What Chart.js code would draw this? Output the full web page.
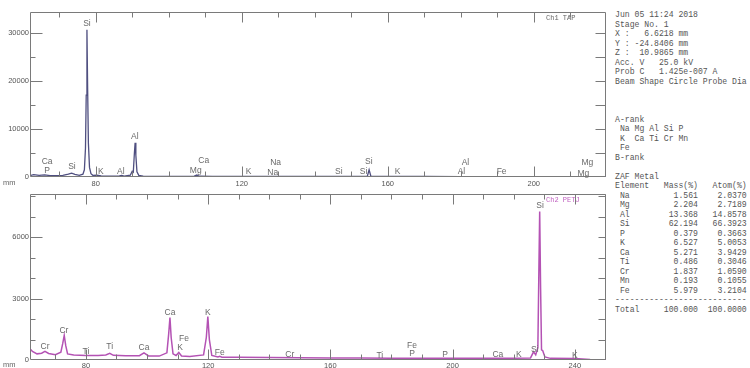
<!DOCTYPE html>
<html>
<head>
<meta charset="utf-8">
<script src="https://cdn.jsdelivr.net/npm/chart.js@4"></script>
<style>
  body { margin: 0; background: #fff; width: 750px; height: 368px; overflow: hidden; position: relative; font-family: "Liberation Sans", Arial, sans-serif; }
  #c1 { position: absolute; left: 0; top: 0; }
  #c2 { position: absolute; left: 0; top: 184px; }
  .mm { position: absolute; left: 3px; font-size: 7.5px; color: #666; line-height: 8px; }
  #info { position: absolute; left: 615px; top: 10px; margin: 0; font: 8.15px/9.5px "Liberation Mono", monospace; color: #555; white-space: pre; }
</style>
</head>
<body>
<canvas id="c1" width="612" height="190"></canvas>
<canvas id="c2" width="612" height="184"></canvas>
<div class="mm" style="top:179px">mm</div>
<div class="mm" style="top:361px">mm</div>
<pre id="info"></pre>
<script>
// Ch1 TAP spectrum (position in mm, counts)
const ch1Mm = [62, 63, 64.5, 66, 67.5, 69, 71, 72.5, 73.4, 74.3, 75.5, 76.5, 76.9, 77.2, 77.4, 77.6, 77.8, 78.0, 78.3, 78.7, 79.2,
  80.3, 81.5, 84, 86.5, 87.1, 87.8, 89.5, 90, 90.3, 90.6, 90.8, 91.0, 91.3, 91.8, 93, 98, 104, 107, 107.7, 108.4,
  112, 120, 130, 140, 150, 154.4, 154.9, 155.4, 160, 170, 180, 190, 200, 210, 216, 219.8];
const ch1Counts = [300, 500, 350, 450, 300, 280, 350, 600, 800, 550, 350, 600, 1500, 6000, 17000, 30600, 18000, 7000, 2000, 700, 350,
  400, 250, 180, 220, 350, 200, 400, 1200, 1000, 5000, 7100, 4500, 1100, 350, 200, 150, 130, 180, 400, 160,
  120, 110, 100, 100, 100, 110, 1500, 110, 100, 100, 90, 90, 90, 90, 40, 20];

// Ch2 PETJ spectrum
const ch2Mm = [61.7, 62.5, 64, 65.5, 66.6, 67.8, 70, 71.8, 72.4, 72.9, 73.4, 74, 76, 80, 84, 86.5, 87.8, 89, 93,
  97.5, 99, 100.5, 104, 106.5, 107.1, 107.5, 107.9, 108.5, 109.5, 110.4, 111.3, 114, 118.5, 119.4, 119.9, 120.4,
  121.2, 123.2, 123.8, 124.5, 130, 140, 150, 160, 170, 180, 190, 200, 210, 220, 225.5, 226.5, 227.2, 227.9, 228.2,
  228.5, 228.8, 229.1, 229.5, 230.2, 232, 240, 245, 250.2];
const ch2Counts = [550, 420, 300, 330, 420, 320, 260, 380, 800, 1200, 700, 300, 240, 220, 220, 250, 330, 230, 210,
  210, 350, 200, 190, 350, 1300, 2070, 1100, 300, 220, 370, 200, 170, 250, 1100, 2120, 1000,
  220, 150, 180, 140, 130, 120, 110, 100, 100, 90, 90, 85, 80, 80, 100, 400, 250, 600, 4000,
  7260, 3500, 500, 450, 150, 80, 70, 30, 10];

// axis tick labels
const ch1XLabels = [80, 120, 160, 200];
const ch1YLabels = [0, 10000, 20000, 30000];
const ch2XLabels = [80, 120, 160, 200, 240];
const ch2YLabels = [0, 3000, 6000];

// element markers: name, position (mm), height (counts)
const ch1Names = ['Si', 'Al', 'Ca', 'P', 'Si', 'K', 'Al', 'Ca', 'Mg', 'Na', 'K', 'Na', 'Si', 'Si', 'Si', 'K', 'Al', 'Al', 'Fe', 'Mg', 'Mg'];
const ch1Pos = [77.6, 90.7, 66.7, 66.7, 73.5, 81.4, 86.9, 109.6, 107.4, 129.3, 121.9, 128.5, 146.6, 154.8, 153.4, 162.7, 181.3, 180.2, 191.2, 214.7, 213.6];
const ch1Hgt = [31800, 8300, 3100, 1250, 2080, 1040, 1040, 3330, 1250, 2900, 1040, 830, 1040, 3120, 1040, 1040, 2900, 1040, 1040, 2900, 620];

const ch2Names = ['Cr', 'Cr', 'Ti', 'Ti', 'Ca', 'Ca', 'Fe', 'K', 'K', 'Fe', 'Cr', 'Ti', 'Fe', 'P', 'P', 'Ca', 'K', 'Si', 'Si', 'K'];
const ch2Pos = [66.6, 72.8, 80.0, 87.8, 99.0, 107.5, 112.1, 110.8, 119.9, 123.8, 146.7, 176.2, 186.7, 186.7, 197.5, 214.8, 221.7, 226.9, 228.6, 240.0];
const ch2Hgt = [640, 1420, 390, 640, 590, 2300, 1030, 590, 2300, 340, 240, 200, 680, 290, 240, 240, 240, 490, 7530, 200];

// quantitative table
const elements = ['Na', 'Mg', 'Al', 'Si', 'P', 'K', 'Ca', 'Ti', 'Cr', 'Mn', 'Fe'];
const massPct = ['1.561', '2.204', '13.368', '62.194', '0.379', '6.527', '5.271', '0.486', '1.837', '0.193', '5.979'];
const atomPct = ['2.0370', '2.7189', '14.8578', '66.3923', '0.3663', '5.0053', '3.9429', '0.3046', '1.0590', '0.1055', '3.2104'];

const headerLines = [
  'Jun 05 11:24 2018',
  'Stage No. 1',
  'X :   6.6218 mm',
  'Y : -24.8406 mm',
  'Z :  10.9865 mm',
  'Acc. V   25.0 kV',
  'Prob C   1.425e-007 A',
  'Beam Shape Circle Probe Dia',
  '', '', '',
  'A-rank',
  ' Na Mg Al Si P',
  ' K  Ca Ti Cr Mn',
  ' Fe',
  'B-rank',
  '',
  'ZAF Metal',
  'Element   Mass(%)   Atom(%)'
];
const rows = elements.map((e, i) => (' ' + e).padEnd(3) + massPct[i].padStart(14) + atomPct[i].padStart(10));
document.getElementById('info').textContent = headerLines.concat(rows, ['-'.repeat(27),
  'Total' + '100.000'.padStart(12) + '100.0000'.padStart(10)]).join('\n');

// frame, inside tick marks and element labels
const framePlugin = {
  id: 'frame',
  afterDraw(chart, args, o) {
    const { ctx, chartArea: a, scales: { x, y } } = chart;
    const L = Math.round(a.left) + 0.5, R = Math.round(a.right) - 0.5;
    const T = Math.round(a.top) + 0.5, B = Math.round(a.bottom) - 0.5;
    ctx.save();
    ctx.strokeStyle = '#7a7a7a';
    ctx.lineWidth = 1;
    ctx.beginPath();
    ctx.rect(L, T, R - L, B - T);
    for (let v = Math.ceil(x.min / 10) * 10; v <= x.max; v += 10) {
      const px = Math.round(x.getPixelForValue(v)) + 0.5;
      const len = v % 40 === 0 ? 10 : 5;
      ctx.moveTo(px, T); ctx.lineTo(px, T + len);
      ctx.moveTo(px, B); ctx.lineTo(px, B - len);
    }
    for (let v = o.yStep; v < y.max; v += o.yStep) {
      const py = Math.round(y.getPixelForValue(v)) + 0.5;
      const len = v % o.yMajor === 0 ? 12 : 5;
      ctx.moveTo(L, py); ctx.lineTo(L + len, py);
      ctx.moveTo(R, py); ctx.lineTo(R - o.rightLen, py);
    }
    ctx.stroke();

    ctx.font = '8.5px "Liberation Sans", Arial';
    ctx.fillStyle = '#6a6a6a';
    ctx.textAlign = 'center';
    ctx.textBaseline = 'middle';
    o.names.forEach((n, i) => ctx.fillText(n, x.getPixelForValue(o.pos[i]), y.getPixelForValue(o.hgt[i])));

    ctx.font = '7px "Liberation Mono", monospace';
    ctx.fillStyle = o.tagColor;
    ctx.textAlign = 'left';
    ctx.fillText(o.tag, a.right - 60, a.top + 6);
    ctx.restore();
  }
};

function makeChart(id, mm, counts, cfg) {
  new Chart(document.getElementById(id), {
    type: 'line',
    data: {
      datasets: [{
        data: mm.map((v, i) => ({ x: v, y: counts[i] })),
        borderColor: cfg.color,
        borderWidth: cfg.width,
        pointRadius: 0,
        tension: 0,
        fill: false
      }]
    },
    options: {
      responsive: false,
      animation: false,
      layout: { padding: { top: cfg.padTop, right: 6, left: 0, bottom: 0 } },
      plugins: {
        legend: { display: false },
        tooltip: { enabled: false },
        frame: cfg.frame
      },
      scales: {
        x: {
          type: 'linear',
          min: cfg.xMin, max: cfg.xMax,
          grid: { display: false, drawTicks: false },
          border: { display: false },
          afterFit: s => { s.height = cfg.xHeight; },
          afterBuildTicks: s => { s.ticks = cfg.xLabels.map(v => ({ value: v })); },
          ticks: { padding: cfg.xPad, maxRotation: 0, autoSkip: false, color: '#555',
                   font: { family: 'Liberation Sans', size: 7.5 }, callback: v => String(v) }
        },
        y: {
          min: 0, max: cfg.yMax,
          grid: { display: false, drawTicks: false },
          border: { display: false },
          afterFit: s => { s.width = 30; },
          afterBuildTicks: s => { s.ticks = cfg.yLabels.map(v => ({ value: v })); },
          ticks: { padding: 1, autoSkip: false, color: '#555',
                   font: { family: 'Liberation Sans', size: 7.5 }, callback: v => String(v) }
        }
      }
    },
    plugins: [framePlugin]
  });
}

makeChart('c1', ch1Mm, ch1Counts, {
  color: '#4f4f80', width: 1.3, padTop: 12, xMin: 62, xMax: 219.8, yMax: 34300,
  xLabels: ch1XLabels, yLabels: ch1YLabels, xHeight: 13, xPad: 2,
  frame: { yStep: 5000, yMajor: 10000, rightLen: 10, names: ch1Names, pos: ch1Pos, hgt: ch1Hgt, tag: 'Ch1 TAP', tagColor: '#666' }
});

makeChart('c2', ch2Mm, ch2Counts, {
  color: '#b452b4', width: 1.5, padTop: 10, xMin: 61.7, xMax: 250.2, yMax: 8117,
  xLabels: ch2XLabels, yLabels: ch2YLabels, xHeight: 8, xPad: 1,
  frame: { yStep: 1000, yMajor: 3000, rightLen: 7, names: ch2Names, pos: ch2Pos, hgt: ch2Hgt, tag: 'Ch2 PETJ', tagColor: '#c060c0' }
});
</script>
</body>
</html>
